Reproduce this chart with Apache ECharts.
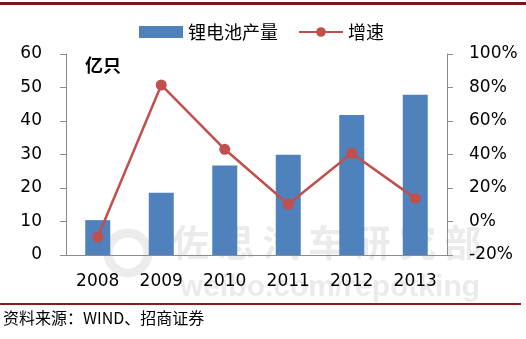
<!DOCTYPE html>
<html>
<head>
<meta charset="utf-8">
<script src="https://cdn.jsdelivr.net/npm/echarts@6/dist/echarts.min.js"></script>
<style>
html,body{margin:0;padding:0;background:#fff;}
#chart{width:526px;height:339px;}
</style>
</head>
<body>
<div id="chart"></div>
<script>
// 锂电池产量（亿只）与增速
const years = ['2008', '2009', '2010', '2011', '2012', '2013'];
const output = [10.4, 18.6, 26.7, 29.9, 41.8, 47.8];
const growth = [-9.3, 81.5, 43.1, 10.3, 40.7, 13.8];
const leftTicks = [0, 60, 10];
const rightTicks = [-20, 100, 20];

const chart = echarts.init(document.getElementById('chart'));
const axisFont = { fontFamily: 'DejaVu Sans', fontSize: 17, color: '#000' };
const axisLine = { show: true, lineStyle: { color: '#8c8c8c', width: 1 } };

chart.setOption({
  animation: false,
  backgroundColor: '#fff',
  grid: { left: 66, right: 79, top: 54, bottom: 84 },
  legend: {
    top: 23, left: 139, padding: 0,
    itemGap: 20, itemWidth: 44, itemHeight: 12,
    textStyle: { fontFamily: 'Noto Sans CJK SC', fontSize: 18, color: '#000' },
    data: [
      { name: '锂电池产量', icon: 'rect' },
      { name: '增速' }
    ]
  },
  graphic: [
    { type: 'rect', shape: { x: 0, y: 2, width: 526, height: 3 }, style: { fill: '#7B1416' } },
    { type: 'rect', shape: { x: 0, y: 303, width: 521, height: 2 }, style: { fill: '#8B1A1A' } },
    { type: 'text', left: 3, top: 310, style: { text: '资料来源：WIND、招商证券', font: '16px "Noto Sans CJK SC"', fill: '#000' } },
    { type: 'text', left: 85, top: 56, style: { text: '亿只', font: 'bold 18px "Noto Sans CJK SC"', fill: '#000' } },
    // 水印
    { type: 'circle', z: -10, shape: { cx: 128, cy: 253, r: 20 }, style: { fill: 'none', stroke: '#ececec', lineWidth: 9 } },
    { type: 'text', z: -10, left: 172, top: 224, style: { text: '佐 思 汽 车 研 究 部', font: 'bold 37px "Noto Sans CJK SC"', fill: '#ebebeb' } },
    { type: 'text', z: -10, left: 180, top: 273, style: { text: 'weibo.com/repotking', font: 'bold 30px "Liberation Sans"', fill: '#ebebeb' } }
  ],
  xAxis: {
    type: 'category',
    data: years,
    axisLine: axisLine,
    axisTick: { show: false },
    axisLabel: Object.assign({ margin: 18 }, axisFont)
  },
  yAxis: [
    {
      type: 'value', min: leftTicks[0], max: leftTicks[1], interval: leftTicks[2],
      axisLine: axisLine,
      axisTick: { show: true, length: 6, lineStyle: { color: '#8c8c8c' } },
      splitLine: { show: false },
      axisLabel: Object.assign({ margin: 24 }, axisFont)
    },
    {
      type: 'value', min: rightTicks[0], max: rightTicks[1], interval: rightTicks[2],
      position: 'right',
      axisLine: axisLine,
      axisTick: { show: true, length: 6, lineStyle: { color: '#8c8c8c' } },
      splitLine: { show: false },
      axisLabel: Object.assign({ margin: 22, formatter: '{value}%' }, axisFont)
    }
  ],
  series: [
    {
      name: '锂电池产量', type: 'bar', data: output,
      barWidth: 25,
      itemStyle: { color: '#4F81BD' }
    },
    {
      name: '增速', type: 'line', yAxisIndex: 1, data: growth,
      symbol: 'circle', symbolSize: 11,
      lineStyle: { color: '#C0504D', width: 2.5 },
      itemStyle: { color: '#C0504D' }
    }
  ]
});
</script>
</body>
</html>
